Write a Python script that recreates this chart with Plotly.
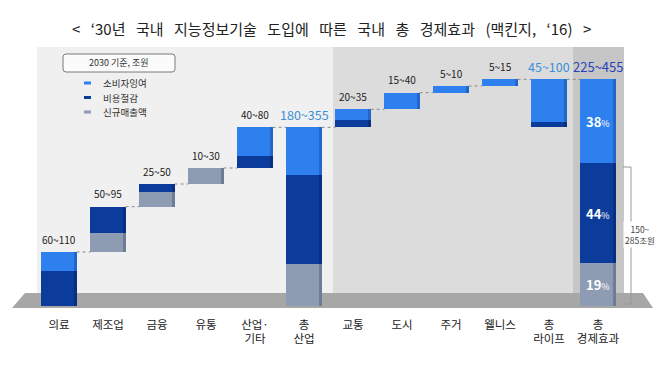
import plotly.graph_objects as go

# ---------------- data ----------------
categories = ["의료", "제조업", "금융", "유통", "산업·<br>기타", "총<br>산업",
              "교통", "도시", "주거", "웰니스", "총<br>라이프", "총<br>경제효과"]
range_labels = ["60~110", "50~95", "25~50", "10~30", "40~80", "180~355",
                "20~35", "15~40", "5~10", "5~15", "45~100", "225~455"]
# segment values (조원, 2030)
new_revenue = [0, 28, 22, 24, 0, 63, 0, 0, 0, 0, 0, 64]          # 신규매출액
cost_saving = [53, 40, 12, 0, 18, 133, 11, 0, 0, 0, 8, 150]       # 비용절감
consumer_surplus = [28, 0, 0, 0, 43, 72, 16, 25, 10, 10, 64, 126]  # 소비자잉여
bar_kind = ["step", "step", "step", "step", "step", "total",
            "step", "step", "step", "step", "subtotal", "total"]
total_shares = ["38", "44", "19"]
series_names = ["소비자잉여", "비용절감", "신규매출액"]

FONT = "Noto Sans CJK KR"
C_LIGHT, C_DARK, C_GRAY = "#2e80ee", "#0b3c9c", "#8d9bb3"
E_LIGHT, E_DARK, E_GRAY = "#2266cc", "#082f80", "#6e7c95"

# ---------------- waterfall bases ----------------
n = len(categories)
sums = [new_revenue[i] + cost_saving[i] + consumer_surplus[i] for i in range(n)]
bases, tops = [], []
running = 0
section_start = 0
for i in range(n):
    if bar_kind[i] == "step":
        b = running
        running += sums[i]
    elif bar_kind[i] == "total":
        b = 0
        running = sums[i]
        section_start = running
    else:  # subtotal of the section after the previous total
        b = section_start
    bases.append(b)
    tops.append(b + sums[i])

base_gray = bases
base_dark = [bases[i] + new_revenue[i] for i in range(n)]
base_light = [base_dark[i] + cost_saving[i] for i in range(n)]
xs = list(range(n))

W = 0.72
fig = go.Figure()
for vals, bs, col, ecol in [(new_revenue, base_gray, C_GRAY, E_GRAY),
                            (cost_saving, base_dark, C_DARK, E_DARK),
                            (consumer_surplus, base_light, C_LIGHT, E_LIGHT)]:
    fig.add_trace(go.Bar(x=xs, y=vals, base=bs, width=W, marker_color=col,
                         marker_line_width=0, showlegend=False, hoverinfo="skip"))
    fig.add_trace(go.Bar(x=xs, y=vals, base=bs, width=0.06, offset=W / 2 - 0.06,
                         marker_color=ecol, marker_line_width=0,
                         showlegend=False, hoverinfo="skip"))

# dotted connectors
cx, cy = [], []
for i in range(n - 1):
    cx += [i + W / 2, i + 1 - W / 2, None]
    cy += [tops[i], tops[i], None]
fig.add_trace(go.Scatter(x=cx, y=cy, mode="lines",
                         line=dict(color="#8a8a8a", width=1, dash="dot"),
                         showlegend=False, hoverinfo="skip"))

# ---------------- layout helpers ----------------
WIDTH, HEIGHT = 663, 376
PB = 312  # plot bottom in px


def fx(px):
    return px / WIDTH


def fy(py):
    return (PB - py) / PB


shapes = []


def rect(x0, y0, x1, y1, color):
    shapes.append(dict(type="rect", xref="paper", yref="paper", x0=fx(x0), x1=fx(x1),
                       y0=fy(y1), y1=fy(y0), fillcolor=color, line_width=0, layer="below"))


rect(37, 47, 333, 293, "#f0f0f0")
rect(333, 47, 573, 293, "#dcdcdc")
rect(573, 47, 624, 293, "#c6c6c6")


def path(pts, close=True):
    s = "M " + " L ".join(f"{fx(a):.5f},{fy(b):.5f}" for a, b in pts)
    return s + (" Z" if close else "")


shapes.append(dict(type="path", xref="paper", yref="paper",
                   path=path([(25, 293), (643, 293), (653, 308), (12, 308)]),
                   fillcolor="#a7a7a7", line_width=0, layer="below"))

# legend box (rounded)
x0, x1, y0, y1, r = 63, 175, 54, 72, 3
rp = (f"M {fx(x0 + r)},{fy(y0)} L {fx(x1 - r)},{fy(y0)} Q {fx(x1)},{fy(y0)} {fx(x1)},{fy(y0 + r)} "
      f"L {fx(x1)},{fy(y1 - r)} Q {fx(x1)},{fy(y1)} {fx(x1 - r)},{fy(y1)} "
      f"L {fx(x0 + r)},{fy(y1)} Q {fx(x0)},{fy(y1)} {fx(x0)},{fy(y1 - r)} "
      f"L {fx(x0)},{fy(y0 + r)} Q {fx(x0)},{fy(y0)} {fx(x0 + r)},{fy(y0)} Z")
shapes.append(dict(type="path", xref="paper", yref="paper", path=rp,
                   fillcolor="#fbfbfb", line=dict(color="#7a7a7a", width=1)))

annotations = []


def pann(xp, yp, text, font, xanchor="center", **kw):
    annotations.append(dict(xref="paper", yref="paper", x=fx(xp), y=fy(yp), text=text,
                            xanchor=xanchor, yanchor="middle", showarrow=False,
                            font=font, **kw))


pann(119, 63, "2030 기준, 조원", dict(family=FONT, size=9, color="#333"))
for k, (name, col) in enumerate(zip(series_names, [C_LIGHT, C_DARK, C_GRAY])):
    yy = 83 + k * 14.5
    shapes.append(dict(type="line", xref="paper", yref="paper", x0=fx(84), x1=fx(91),
                       y0=fy(yy), y1=fy(yy), line=dict(color=col, width=3)))
    pann(101, yy, name, dict(family=FONT, size=9.5, color="#333"), xanchor="left")

# bracket
shapes.append(dict(type="path", xref="paper", yref="paper",
                   path=path([(623, 167), (631, 167), (631, 304), (623, 304)], close=False),
                   line=dict(color="#999999", width=1)))
pann(640, 234, "150~<br>285조원", dict(family=FONT, size=8.5, color="#444"),
     bgcolor="white", borderpad=1)

# title
S = "\u2002\u2009"
title = S.join(["<", "‘30년", "국내", "지능정보기술", "도입에", "따른", "국내", "총",
                "경제효과", "(맥킨지,", "‘16)", ">"])
pann(331, 28, title, dict(family=FONT, size=15, color="#222"))

# range labels
for i in range(n):
    if i in (5, 10):
        f = dict(family=FONT, size=12.5, color="#3a8fd8")
    elif i == 11:
        f = dict(family=FONT, size=13, color="#2742b8")
    else:
        f = dict(family=FONT, size=10, color="#222")
    annotations.append(dict(x=i, y=tops[i], yshift=13, text=range_labels[i],
                            xanchor="center", yanchor="middle",
                            showarrow=False, font=f))

# share labels on the grand total bar
last = n - 1
seg_mid = [base_light[last] + consumer_surplus[last] / 2,
           base_dark[last] + cost_saving[last] / 2,
           base_gray[last] + new_revenue[last] / 2]
for s, ym in zip(total_shares, seg_mid):
    annotations.append(dict(x=last, y=ym, showarrow=False, xanchor="center", yanchor="middle",
                            text=f"<b>{s}</b><span style='font-size:9px'>%</span>",
                            font=dict(family=FONT, size=13, color="white")))

fig.update_layout(
    width=WIDTH, height=HEIGHT,
    margin=dict(l=0, r=0, t=0, b=HEIGHT - PB),
    paper_bgcolor="white", plot_bgcolor="rgba(0,0,0,0)",
    barmode="overlay", bargap=0,
    shapes=shapes, annotations=annotations,
    xaxis=dict(range=[-1.2041, 12.3265], tickvals=xs, ticktext=categories,
               showgrid=False, zeroline=False, showline=False, ticks="",
               ticklabelstandoff=4, automargin=False,
               tickfont=dict(family=FONT, size=11.5, color="#222")),
    yaxis=dict(range=[-9, 459], visible=False),
    font=dict(family=FONT),
)

fig.write_html("out.html", config={"displayModeBar": False},
               post_script="document.body.style.margin='0';")
